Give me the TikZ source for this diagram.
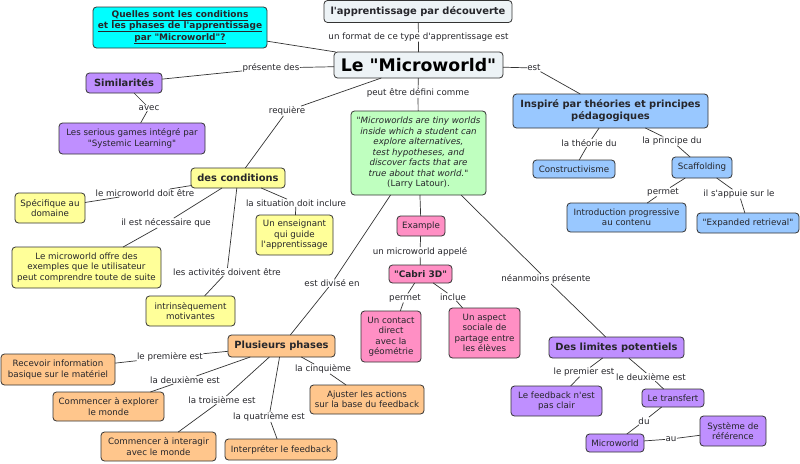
\documentclass[tikz,border=0pt]{standalone}
\usepackage{fontspec}
\newfontfamily\djv{DejaVu Sans}
\definecolor{txt}{HTML}{26262B}
\definecolor{edge}{HTML}{333333}
\definecolor{cbase}{HTML}{EDF3F6}
\definecolor{ccyan}{HTML}{00FFFF}
\definecolor{cpurple}{HTML}{BF8FFF}
\definecolor{cyellow}{HTML}{FFFF99}
\definecolor{corange}{HTML}{FFC68C}
\definecolor{cgreen}{HTML}{BFFFBF}
\definecolor{cpink}{HTML}{FF8FC4}
\definecolor{cblue}{HTML}{99C8FF}
\newcommand{\reg}{\djv\fontsize{8.7}{10.5}\selectfont}
\newcommand{\hdg}{\djv\fontsize{9.9}{12}\selectfont\bfseries}
\newcommand{\hsm}{\djv\fontsize{9}{10.5}\selectfont\bfseries}
\tikzset{
  x=1pt,y=-1pt,
  sz/.style 2 args={minimum width=#1pt,minimum height=#2pt},
  box/.style={draw=edge,line width=0.8pt,rounded corners=3.5pt,inner sep=0pt,outer sep=0pt,align=center,text=txt,font=\reg},
  hbox/.style={box,font=\hdg},
  lab/.style={inner sep=0.5pt,outer sep=0pt,text=txt,font=\reg},
  conn/.style={draw=edge,line width=0.7pt},
}
\begin{document}
\begin{tikzpicture}
\useasboundingbox (0,0) rectangle (800,463);
% boxes
\node[hbox,fill=cbase,sz={188}{22}] (top) at (418,11.5) {l'apprentissage par découverte};
\node[box,fill=cbase,sz={169}{26},font=\djv\fontsize{17.3}{18}\selectfont\bfseries,text=black] (main) at (418.5,65) {Le "Microworld"};
\node[box,fill=ccyan,sz={174}{41},font=\hsm] (quest) at (180,27.5) {\underline{Quelles sont les conditions}\\\underline{et les phases de l'apprentissage}\\\underline{par "Microworld"?}};
\node[hbox,fill=cpurple,sz={76}{20}] (sim) at (124,83) {Similarités};
\node[box,fill=cpurple,sz={146}{31}] (serious) at (132,138.5) {Les serious games intégré par\\"Systemic Learning"};
\node[hbox,fill=cyellow,sz={94}{20}] (cond) at (238,178) {des conditions};
\node[box,fill=cyellow,sz={70}{30}] (spec) at (50,208) {Spécifique au\\domaine};
\node[box,fill=cyellow,sz={77}{40}] (ens) at (294.5,235) {Un enseignant\\qui guide\\l'apprentissage};
\node[box,fill=cyellow,sz={149}{41}] (offre) at (86.5,267.5) {Le microworld offre des\\exemples que le utilisateur\\peut comprendre toute de suite};
\node[box,fill=cyellow,sz={89}{30}] (intr) at (190.5,311) {intrinsèquement\\motivantes};
\node[hbox,fill=corange,sz={107}{22}] (plus) at (281.5,346) {Plusieurs phases};
\node[box,fill=corange,sz={114}{31}] (recv) at (58,369.5) {Recevoir information\\basique sur le matériel};
\node[box,fill=corange,sz={111}{29}] (expl) at (108.5,406.5) {Commencer à explorer\\le monde};
\node[box,fill=corange,sz={115}{29}] (inter) at (158.5,446.5) {Commencer à interagir\\avec le monde};
\node[box,fill=corange,sz={112}{21}] (interp) at (281,449.5) {Interpréter le feedback};
\node[box,fill=corange,sz={114}{29}] (ajust) at (367,399.5) {Ajuster les actions\\sur la base du feedback};
\node[box,fill=cgreen,sz={135}{84}] (green) at (418.5,153) {\itshape "Microworlds are tiny worlds\\\itshape inside which a student can\\\itshape explore alternatives,\\\itshape test hypotheses, and\\\itshape discover facts that are\\\itshape true about that world."\\(Larry Latour).};
\node[box,fill=cpink,sz={48}{20}] (example) at (421,226) {Example};
\node[box,fill=cpink,sz={63}{18},font=\hsm] (cabri) at (420.5,274) {"Cabri 3D"};
\node[box,fill=cpink,sz={60}{51}] (contact) at (391,336.5) {Un contact\\direct\\avec la\\géométrie};
\node[box,fill=cpink,sz={71}{50}] (aspect) at (484.5,333) {Un aspect\\sociale de\\partage entre\\les élèves};
\node[hbox,fill=cblue,sz={195}{34}] (insp) at (610.5,111) {Inspiré par théories et principes\\pédagogiques};
\node[box,fill=cblue,sz={82}{18}] (constr) at (574,169) {Constructivisme};
\node[box,fill=cblue,sz={60}{21}] (scaff) at (702,167.5) {Scaffolding};
\node[box,fill=cblue,sz={119}{29}] (intro) at (626.5,217.5) {Introduction progressive\\au contenu};
\node[box,fill=cblue,sz={102}{20}] (expd) at (748,223) {"Expanded retrieval"};
\node[hbox,fill=cpurple,sz={135}{21}] (lim) at (616.5,347.5) {Des limites potentiels};
\node[box,fill=cpurple,sz={91}{30}] (fb) at (556.5,401) {Le feedback n'est\\pas clair};
\node[box,fill=cpurple,sz={62}{18}] (trans) at (673,398) {Le transfert};
\node[box,fill=cpurple,sz={58}{18}] (micro) at (615,443) {Microworld};
\node[box,fill=cpurple,sz={66}{30}] (sys) at (733,431) {Système de\\référence};
% link labels
\node[lab] (l1) at (418.5,37) {un format de ce type d'apprentissage est};
\node[lab] (l2) at (271,68) {présente des};
\node[lab] (l3) at (149,108) {avec};
\node[lab] (l4) at (287,111) {requière};
\node[lab] (l5) at (418,93) {peut être défini comme};
\node[lab] (l6) at (534,68) {est};
\node[lab] (l7) at (589,143) {la théorie du};
\node[lab] (l8) at (672,141) {la principe du};
\node[lab] (l9) at (663,192) {permet};
\node[lab] (l10) at (739,194) {il s'appuie sur le};
\node[lab] (l11) at (145,193) {le microworld doit être};
\node[lab] (l12) at (296,203) {la situation doit inclure};
\node[lab] (l13) at (166,223) {il est nécessaire que};
\node[lab] (l14) at (227,272) {les activités doivent être};
\node[lab] (l15) at (332,283) {est divisé en};
\node[lab] (l16) at (420,252) {un microworld appelé};
\node[lab] (l17) at (405,298) {permet};
\node[lab] (l18) at (453,297) {inclue};
\node[lab] (l19) at (546,279) {néanmoins présente};
\node[lab] (l20) at (170,357) {le première est};
\node[lab] (l21) at (185,380) {la deuxième est};
\node[lab] (l22) at (222,400) {la troisième est};
\node[lab] (l23) at (269,417) {la quatrième est};
\node[lab] (l24) at (323,369) {la cinquième};
\node[lab] (l25) at (584,372) {le premier est};
\node[lab] (l26) at (651,377) {le deuxième est};
\node[lab] (l27) at (644,421) {du};
\node[lab] (l28) at (671,439) {au};
% connectors
\draw[conn] (quest) -- (main);
\draw[conn] (top) -- (l1) -- (main);
\draw[conn] (main) -- (l2) -- (sim);
\draw[conn] (sim) -- (l3) -- (serious);
\draw[conn] (main) -- (l4) -- (cond);
\draw[conn] (main) -- (l5) -- (green);
\draw[conn] (main) -- (l6) -- (insp);
\draw[conn] (insp) -- (l7) -- (constr);
\draw[conn] (insp) -- (l8) -- (scaff);
\draw[conn] (scaff) -- (l9) -- (intro);
\draw[conn] (scaff) -- (l10) -- (expd);
\draw[conn] (cond) -- (l11) -- (spec);
\draw[conn] (cond) -- (l12) -- (ens);
\draw[conn] (cond) -- (l13) -- (offre);
\draw[conn] (cond) -- (l14) -- (intr);
\draw[conn] (green) -- (l15) -- (plus);
\draw[conn] (green) -- (example);
\draw[conn] (example) -- (l16) -- (cabri);
\draw[conn] (cabri) -- (l17) -- (contact);
\draw[conn] (cabri) -- (l18) -- (aspect);
\draw[conn] (green) -- (l19) -- (lim);
\draw[conn] (plus) -- (l20) -- (recv);
\draw[conn] (plus) -- (l21) -- (expl);
\draw[conn] (plus) -- (l22) -- (inter);
\draw[conn] (plus) -- (l23) -- (interp);
\draw[conn] (plus) -- (l24) -- (ajust);
\draw[conn] (lim) -- (l25) -- (fb);
\draw[conn] (lim) -- (l26) -- (trans);
\draw[conn] (trans) -- (l27) -- (micro);
\draw[conn] (micro) -- (l28) -- (sys);
\end{tikzpicture}
\end{document}
